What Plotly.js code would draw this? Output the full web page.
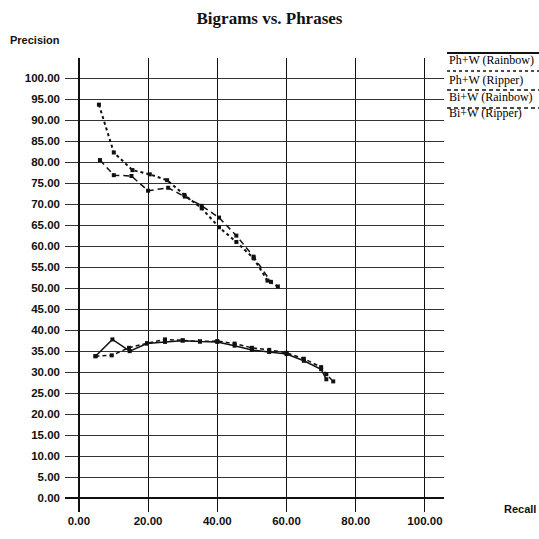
<!DOCTYPE html>
<html>
<head>
<meta charset="utf-8">
<script src="https://cdn.plot.ly/plotly-3.0.1.min.js"></script>
<style>html,body{margin:0;padding:0;background:#fff;}#chart{width:539px;height:539px;}</style>
</head>
<body>
<div id="chart"></div>
<script>
// Series names
const seriesNames = ["Ph+W (Rainbow)", "Ph+W (Ripper)", "Bi+W (Rainbow)", "Bi+W (Ripper)"];

// Ph+W (Rainbow) - lower solid
const phRainbowRecall = [4.8, 9.7, 14.7, 19.7, 24.9, 30.0, 35.0, 40.0, 45.0, 50.0, 55.0, 60.0, 65.0, 70.0, 71.5];
const phRainbowPrec   = [33.8, 37.8, 35.0, 36.8, 37.2, 37.5, 37.3, 37.2, 36.3, 35.3, 34.8, 34.3, 32.7, 30.7, 28.3];

// Ph+W (Ripper) - upper dotted
const phRipperRecall = [5.8, 10.1, 15.5, 20.5, 25.5, 30.5, 35.5, 40.5, 45.5, 50.5, 54.5, 57.5];
const phRipperPrec   = [93.7, 82.3, 78.1, 77.1, 75.7, 72.2, 69.0, 64.5, 61.0, 57.1, 51.8, 50.4];

// Bi+W (Rainbow) - lower dashed
const biRainbowRecall = [4.8, 9.5, 14.5, 19.7, 24.9, 30.0, 35.0, 40.0, 45.0, 50.0, 55.0, 60.0, 65.0, 70.0, 71.5, 73.5];
const biRainbowPrec   = [33.8, 34.0, 35.8, 36.9, 37.8, 37.6, 37.3, 37.4, 36.8, 35.8, 35.3, 34.6, 33.2, 31.2, 29.5, 27.8];

// Bi+W (Ripper) - upper dashed
const biRipperRecall = [6.1, 10.1, 15.2, 20.0, 25.8, 30.6, 35.5, 40.5, 45.5, 50.5, 55.5];
const biRipperPrec   = [80.5, 76.9, 76.7, 73.2, 73.9, 71.8, 69.6, 66.8, 62.5, 57.5, 51.5];

const xTicks = [0, 20, 40, 60, 80, 100];
const yTicks = [0,5,10,15,20,25,30,35,40,45,50,55,60,65,70,75,80,85,90,95,100];

const lineStyles = [
  {dash: "solid", width: 1.5},
  {dash: "dot", width: 2},
  {dash: "4px,3px", width: 1.5},
  {dash: "6px,4px", width: 1.5}
];
const xs = [phRainbowRecall, phRipperRecall, biRainbowRecall, biRipperRecall];
const ys = [phRainbowPrec, phRipperPrec, biRainbowPrec, biRipperPrec];

const traces = seriesNames.map((n, i) => ({
  x: xs[i], y: ys[i], name: n, type: "scatter", mode: "lines+markers",
  line: {color: "#111", dash: lineStyles[i].dash, width: lineStyles[i].width},
  marker: {symbol: "square", size: 4, color: "#111"},
  showlegend: false
}));

// custom legend (line above label)
const legY = [1.011, 0.9714, 0.9295, 0.8899];
const legTextY = [0.9956, 0.9515, 0.9141, 0.8789];
const shapes = [];
const annotations = [];
seriesNames.forEach((n, i) => {
  shapes.push({type: "line", xref: "paper", yref: "paper", x0: 1.008, x1: 1.2507, y0: legY[i], y1: legY[i],
    line: {color: "#111", width: i === 0 ? 2 : 1.3, dash: lineStyles[i].dash === "solid" ? "solid" : (i === 1 ? "dot" : "4px,3px")}});
  annotations.push({xref: "paper", yref: "paper", x: 1.008, y: legTextY[i], xanchor: "left", yanchor: "middle",
    text: n, showarrow: false, font: {family: "Liberation Serif", size: 12, color: "#000"}});
});
annotations.push({xref: "paper", yref: "paper", x: -0.150, y: 1.0396, xanchor: "left", yanchor: "middle",
  text: "Precision", showarrow: false, font: {family: "Liberation Sans", size: 11, color: "#111", weight: 700}});
annotations.push({xref: "paper", yref: "paper", x: 1.248, y: 0.0066, xanchor: "right", yanchor: "middle",
  text: "Recall", showarrow: false, font: {family: "Liberation Sans", size: 11, color: "#111", weight: 700}});

const layout = {
  width: 539, height: 539,
  paper_bgcolor: "#fff", plot_bgcolor: "#fff",
  margin: {l: 65, r: 95, t: 58, b: 27},
  title: {text: "Bigrams vs. Phrases", x: 0.5, xref: "container", y: 0.967, yanchor: "middle",
    font: {family: "Liberation Serif", size: 17, color: "#111", weight: 700}},
  xaxis: {range: [-4, 105.5], tickvals: xTicks, tickformat: ".2f", showgrid: true, gridcolor: "#111", gridwidth: 1,
    zeroline: true, zerolinecolor: "#111", zerolinewidth: 2, showline: false, ticks: "",
    tickfont: {family: "Liberation Sans", size: 11.5, color: "#111", weight: 700}, fixedrange: true},
  yaxis: {range: [-3.3, 104.8], tickvals: yTicks, tickformat: ".2f", showgrid: true, gridcolor: "#333", gridwidth: 1,
    zeroline: true, zerolinecolor: "#111", zerolinewidth: 1.5, showline: false, ticks: "",
    tickfont: {family: "Liberation Sans", size: 11.5, color: "#111", weight: 700}, ticklabelstandoff: 4, fixedrange: true},
  shapes: shapes,
  annotations: annotations
};

Plotly.newPlot("chart", traces, layout, {displayModeBar: false, staticPlot: true});
</script>
</body>
</html>
